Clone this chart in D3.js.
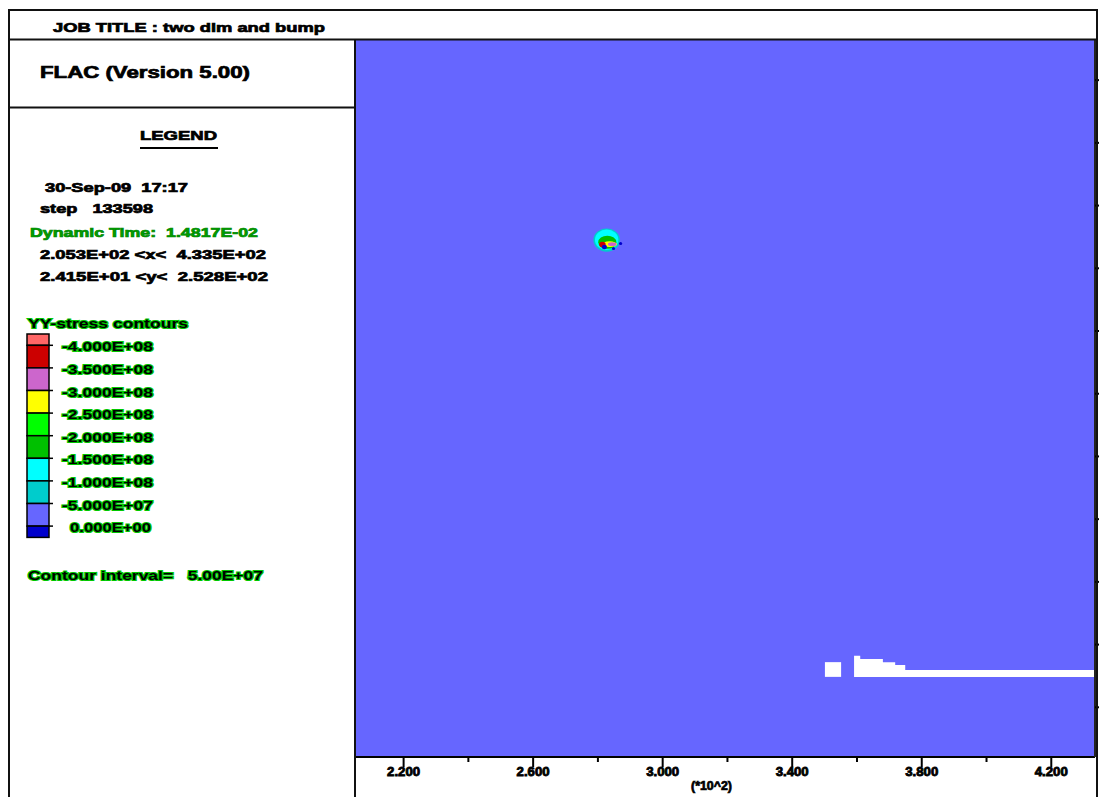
<!DOCTYPE html>
<html>
<head>
<meta charset="utf-8">
<script src="https://cdn.jsdelivr.net/npm/d3@7"></script>
<style>
  html, body { margin: 0; padding: 0; background: #fff; }
  svg { display: block; }
  text { font-family: "Liberation Sans", Arial, sans-serif; font-weight: bold; white-space: pre; }
</style>
</head>
<body>
<div id="chart"></div>
<script>
// contour classes (YY-stress), boundaries and fills
var contourLevels = [-4.0e8, -3.5e8, -3.0e8, -2.5e8, -2.0e8, -1.5e8, -1.0e8, -0.5e8, 0];
var contourColors = ['#ff6666', '#cc0000', '#cc66cc', '#ffff00', '#00ff00', '#00c000',
                     '#00ffff', '#00cccc', '#6666ff', '#0000cc'];
var levelLabels = ['-4.000E+08', '-3.500E+08', '-3.000E+08', '-2.500E+08', '-2.000E+08',
                   '-1.500E+08', '-1.000E+08', '-5.000E+07', '0.000E+00'];

// model extent (m)
var xRange = [205.3, 433.5];
var yRange = [24.15, 252.8];
var xTicks = [220, 240, 260, 280, 300, 320, 340, 360, 380, 400, 420];
var xTickLabels = ['2.200', '', '2.600', '', '3.000', '', '3.400', '', '3.800', '', '4.200'];
var yTicks = [40, 60, 80, 100, 120, 140, 160, 180, 200, 220, 240];

// background stress of the grid and the small pressure bulb near the top
var fieldStress = -0.2e8;
var bulbPatches = [
  {cx: 282.7, cy: 189.0, rx: 4.1, ry: 3.7, s: -0.7e8},
  {cx: 282.7, cy: 189.1, rx: 3.6, ry: 3.3, s: -1.2e8},
  {cx: 282.9, cy: 188.3, rx: 2.8, ry: 2.1, s: -1.7e8},
  {cx: 283.6, cy: 187.7, rx: 2.3, ry: 0.9, s: -2.7e8},
  {cx: 284.4, cy: 187.7, rx: 1.3, ry: 0.6, s: -3.2e8},
  {cx: 281.4, cy: 187.6, rx: 1.0, ry: 0.9, s: -3.7e8},
  {cx: 282.0, cy: 186.8, rx: 0.8, ry: 0.7, s: 1e6},
  {cx: 284.8, cy: 186.3, rx: 0.5, ry: 0.5, s: 1e6},
  {cx: 287.0, cy: 187.9, rx: 0.5, ry: 0.5, s: 1e6}
];

// null zones (white)
var voidBlock = [[350.1, 49.7], [355.1, 49.7], [355.1, 54.4], [350.1, 54.4]];
var voidStrip = [[359.1, 49.7], [433.5, 49.7], [433.5, 51.9], [374.9, 51.9], [374.9, 53.5],
                 [371.8, 53.5], [371.8, 54.4], [368.0, 54.4], [368.0, 55.4], [361.0, 55.4],
                 [361.0, 56.4], [359.1, 56.4]];

var infoLines = [
  {t: '30-Sep-09  17:17', x: 45, y: 187, w: 143, green: false},
  {t: 'step   133598', x: 40, y: 208, w: 113, green: false},
  {t: 'Dynamic Time:  1.4817E-02', x: 30, y: 232, w: 228, green: true},
  {t: '2.053E+02 <x<  4.335E+02', x: 40, y: 254, w: 226, green: false},
  {t: '2.415E+01 <y<  2.528E+02', x: 40, y: 276, w: 228, green: false}
];

var width = 1099, height = 797;
var plot = {left: 356, right: 1095, top: 40, bottom: 757};

var svg = d3.select('#chart').append('svg')
    .attr('width', width)
    .attr('height', height);

var x = d3.scaleLinear().domain(xRange).range([plot.left, plot.right]);
var y = d3.scaleLinear().domain(yRange).range([plot.bottom, plot.top]);
var color = d3.scaleThreshold().domain(contourLevels).range(contourColors);

// text helper, heavy stroke to mimic the blocky plot font
function label(g, t, x0, yc, w, size, fill) {
  var el = g.append('text')
      .attr('x', x0)
      .attr('y', yc + size * 0.36)
      .attr('font-size', size)
      .attr('fill', fill || '#000')
      .attr('stroke', fill || '#000')
      .attr('stroke-width', 0.7)
      .text(t);
  if (w) { el.attr('textLength', w).attr('lengthAdjust', 'spacingAndGlyphs'); }
  return el;
}

// plot field
var field = svg.append('g');
field.append('rect')
    .attr('x', x(xRange[0])).attr('y', y(yRange[1]))
    .attr('width', x(xRange[1]) - x(xRange[0]))
    .attr('height', y(yRange[0]) - y(yRange[1]))
    .attr('fill', color(fieldStress));

field.selectAll('ellipse').data(bulbPatches).enter().append('ellipse')
    .attr('cx', function (d) { return x(d.cx); })
    .attr('cy', function (d) { return y(d.cy); })
    .attr('rx', function (d) { return x(d.cx + d.rx) - x(d.cx); })
    .attr('ry', function (d) { return y(d.cy) - y(d.cy + d.ry); })
    .attr('fill', function (d) { return color(d.s); });

var line = d3.line().x(function (d) { return x(d[0]); }).y(function (d) { return y(d[1]); })
    .curve(d3.curveLinearClosed);
field.selectAll('path.void').data([voidBlock, voidStrip]).enter().append('path')
    .attr('class', 'void')
    .attr('d', line)
    .attr('fill', '#fff');

// axes
var xAxis = svg.append('g').attr('transform', 'translate(0,' + plot.bottom + ')');
xAxis.append('line').attr('x1', plot.left).attr('x2', plot.right)
    .attr('stroke', '#000').attr('stroke-width', 2);
xAxis.selectAll('line.tick').data(xTicks).enter().append('line')
    .attr('class', 'tick')
    .attr('x1', function (d) { return x(d); }).attr('x2', function (d) { return x(d); })
    .attr('y1', 0)
    .attr('y2', function (d, i) { return xTickLabels[i] ? 10 : 5; })
    .attr('stroke', '#000').attr('stroke-width', 2);
xAxis.selectAll('text').data(xTicks).enter().append('text')
    .attr('x', function (d) { return x(d); })
    .attr('y', 19)
    .attr('text-anchor', 'middle')
    .attr('font-size', 12)
    .attr('stroke', '#000').attr('stroke-width', 0.8)
    .attr('textLength', function (d, i) { return xTickLabels[i] ? 33 : 0; })
    .attr('lengthAdjust', 'spacingAndGlyphs')
    .text(function (d, i) { return xTickLabels[i]; });
label(svg, '(*10^2)', 691, 786, 41, 12);

var yAxis = svg.append('g').attr('transform', 'translate(' + plot.right + ',0)');
yAxis.append('line').attr('y1', plot.top).attr('y2', plot.bottom)
    .attr('stroke', '#222').attr('stroke-width', 2);
yAxis.selectAll('line.tick').data(yTicks).enter().append('line')
    .attr('class', 'tick')
    .attr('y1', function (d) { return y(d); }).attr('y2', function (d) { return y(d); })
    .attr('x1', 0).attr('x2', 5)
    .attr('stroke', '#000').attr('stroke-width', 2);

// frame
var frame = svg.append('g').attr('fill', 'none').attr('stroke', '#111').attr('stroke-width', 2);
frame.append('path').attr('d', 'M9,800 V10 H1097 V800');
frame.append('line').attr('x1', 9).attr('x2', 1097).attr('y1', 39.5).attr('y2', 39.5);
frame.append('line').attr('x1', 355).attr('x2', 355).attr('y1', 39.5).attr('y2', 800);
frame.append('line').attr('x1', 9).attr('x2', 355).attr('y1', 107.5).attr('y2', 107.5);

// header texts
label(svg, 'JOB TITLE : two dim and bump', 53, 27, 272, 13);
label(svg, 'FLAC (Version 5.00)', 40, 72, 210, 16);
label(svg, 'LEGEND', 140, 135, 77, 13);
svg.append('line').attr('x1', 140).attr('x2', 218).attr('y1', 148).attr('y2', 148)
    .attr('stroke', '#000').attr('stroke-width', 2);

svg.selectAll('text.info').data(infoLines).enter().append('text')
    .attr('class', 'info')
    .attr('x', function (d) { return d.x; })
    .attr('y', function (d) { return d.y + 4.5; })
    .attr('font-size', 12.5)
    .attr('textLength', function (d) { return d.w; })
    .attr('lengthAdjust', 'spacingAndGlyphs')
    .attr('fill', function (d) { return d.green ? '#00a000' : '#000'; })
    .attr('stroke', function (d) { return d.green ? '#008800' : '#000'; })
    .attr('stroke-width', 0.7)
    .text(function (d) { return d.t; });

// colour legend
function haloText(el) {
  return el.attr('stroke', '#00c800').attr('stroke-width', 2)
      .attr('paint-order', 'stroke').attr('fill', '#000');
}
haloText(label(svg, 'YY-stress contours', 28, 323, 160, 12.5));
haloText(label(svg, 'Contour interval=   5.00E+07', 28, 575, 235, 12.5));

var barTop = 334, barStep = 22.6, halfStep = 11.3;
var swatchY = function (i) { return i === 0 ? barTop : barTop + halfStep + (i - 1) * barStep; };
var swatchH = function (i) { return (i === 0 || i === contourColors.length - 1) ? halfStep : barStep; };

var legend = svg.append('g');
legend.selectAll('rect').data(contourColors).enter().append('rect')
    .attr('x', 27).attr('width', 22)
    .attr('y', function (d, i) { return swatchY(i); })
    .attr('height', function (d, i) { return swatchH(i); })
    .attr('fill', function (d) { return d; })
    .attr('stroke', '#000').attr('stroke-width', 1.5);
legend.selectAll('line').data(contourLevels).enter().append('line')
    .attr('x1', 49).attr('x2', 53)
    .attr('y1', function (d, i) { return swatchY(i + 1); })
    .attr('y2', function (d, i) { return swatchY(i + 1); })
    .attr('stroke', '#000').attr('stroke-width', 1.5);
legend.selectAll('text').data(levelLabels).enter().append('text')
    .attr('x', function (d) { return d.charAt(0) === '-' ? 62 : 70; })
    .attr('y', function (d, i) { return swatchY(i + 1) + 6; })
    .attr('font-size', 12.5)
    .attr('textLength', function (d) { return d.charAt(0) === '-' ? 91 : 81; })
    .attr('lengthAdjust', 'spacingAndGlyphs')
    .attr('stroke', '#00c800').attr('stroke-width', 2)
    .attr('paint-order', 'stroke').attr('fill', '#000')
    .text(function (d) { return d; });
</script>
</body>
</html>
